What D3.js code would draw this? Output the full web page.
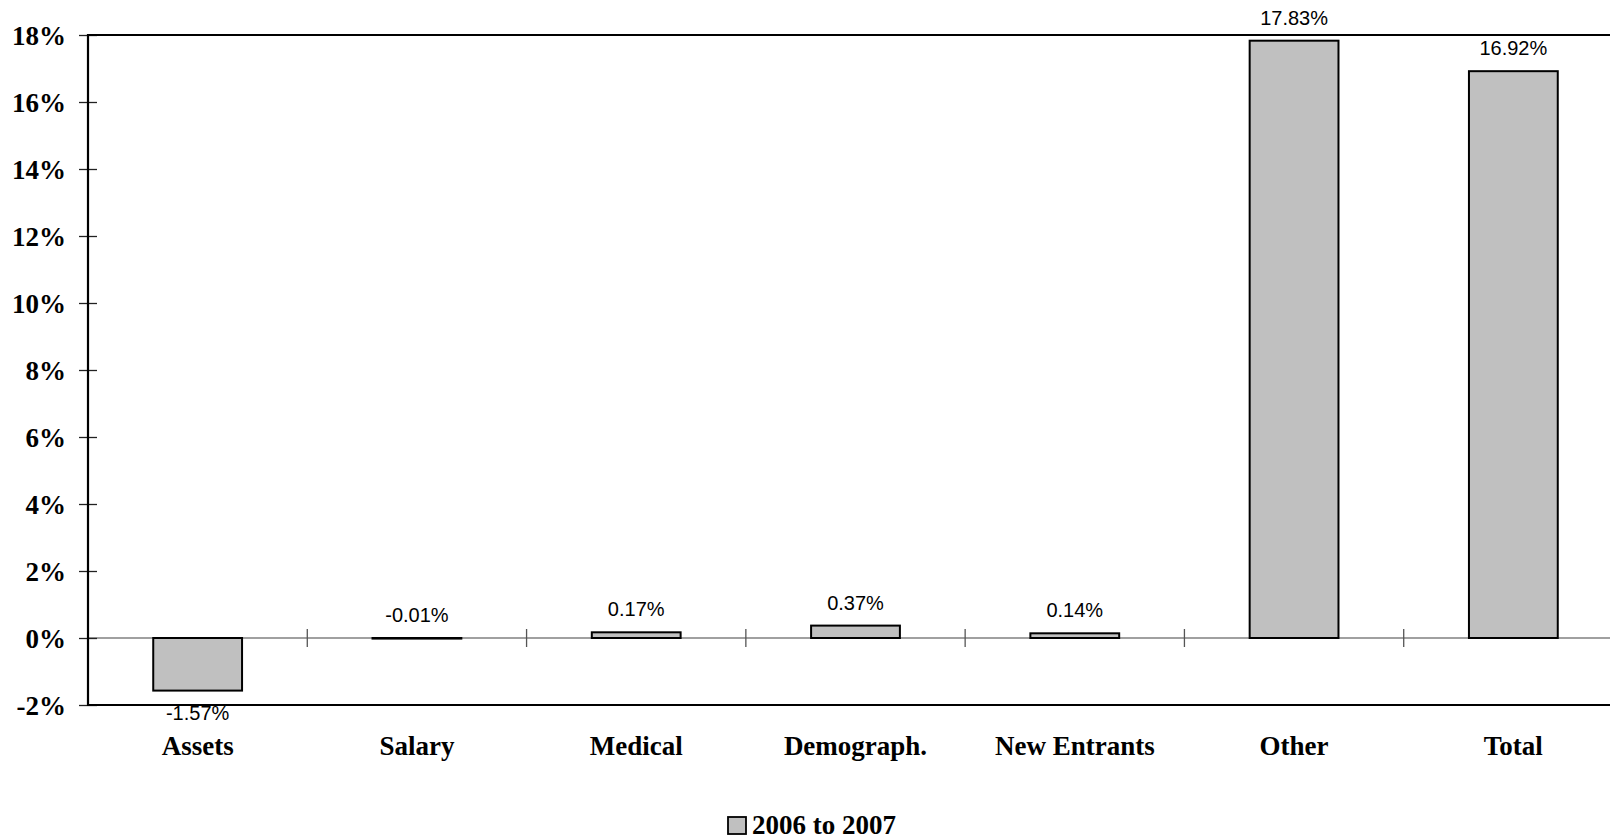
<!DOCTYPE html>
<html>
<head>
<meta charset="utf-8">
<script src="https://cdn.jsdelivr.net/npm/d3@7"></script>
<style>
  html, body { margin: 0; padding: 0; background: #fff; overflow: hidden; }
  svg { display: block; }
</style>
</head>
<body>
<svg id="chart" width="1610" height="840"></svg>
<script>
// Change in funded ratio by source, 2006 to 2007
const categories = ["Assets", "Salary", "Medical", "Demograph.", "New Entrants", "Other", "Total"];
const values = [-1.57, -0.01, 0.17, 0.37, 0.14, 17.83, 16.92];
const yTicks = [-2, 0, 2, 4, 6, 8, 10, 12, 14, 16, 18];
const seriesName = "2006 to 2007";

const svg = d3.select("#chart");
const plotLeft = 88, plotRight = 1623, plotTop = 35, plotBottom = 705;

const x = d3.scaleBand().domain(categories).range([plotLeft, plotRight]).paddingInner(0).paddingOuter(0);
const y = d3.scaleLinear().domain([-2, 18]).range([plotBottom, plotTop]);
const barW = x.bandwidth() * 0.405;

const serif = "'Liberation Serif', 'Times New Roman', serif";
const sans = "'Liberation Sans', Arial, sans-serif";

// zero line
svg.append("line")
  .attr("x1", plotLeft).attr("x2", plotRight)
  .attr("y1", y(0)).attr("y2", y(0))
  .attr("stroke", "#808080").attr("stroke-width", 1.3);

// category boundary ticks crossing the zero line
svg.append("g").selectAll("line")
  .data(categories.slice(1))
  .join("line")
  .attr("x1", d => x(d)).attr("x2", d => x(d))
  .attr("y1", y(0) - 9).attr("y2", y(0) + 9)
  .attr("stroke", "#555").attr("stroke-width", 1.3);

// bars
svg.append("g").selectAll("rect")
  .data(values)
  .join("rect")
  .attr("x", (d, i) => x(categories[i]) + x.bandwidth() / 2 - barW / 2)
  .attr("width", barW)
  .attr("y", d => y(Math.max(0, d)))
  .attr("height", d => Math.max(0.6, Math.abs(y(d) - y(0))))
  .attr("fill", "#c0c0c0")
  .attr("stroke", "#000")
  .attr("stroke-width", 2);

// value labels
svg.append("g").selectAll("text")
  .data(values)
  .join("text")
  .attr("x", (d, i) => x(categories[i]) + x.bandwidth() / 2)
  .attr("y", d => d < -0.5 ? y(d) + 29 : y(Math.max(0, d)) - 16)
  .attr("text-anchor", "middle")
  .attr("font-family", sans)
  .attr("font-size", 20)
  .attr("fill", "#000")
  .text(d => d.toFixed(2) + "%");

// y axis
const yAxis = d3.axisLeft(y).tickValues(yTicks).tickFormat(d => d + "%").tickSize(9);
const gy = svg.append("g").attr("transform", `translate(${plotLeft},0)`).call(yAxis);
gy.select(".domain").remove();
gy.selectAll(".tick line").attr("x1", -9).attr("x2", 9).attr("stroke", "#222").attr("stroke-width", 1.3);
gy.selectAll(".tick text")
  .attr("x", -22).attr("dy", 9)
  .attr("font-family", serif).attr("font-size", 27).attr("font-weight", "bold").attr("fill", "#000");

// plot frame: left, top and bottom edges
svg.append("path")
  .attr("d", `M${plotRight},${plotTop}H${plotLeft}V${plotBottom}H${plotRight}`)
  .attr("fill", "none").attr("stroke", "#000").attr("stroke-width", 2.2);

// category labels
svg.append("g").selectAll("text")
  .data(categories)
  .join("text")
  .attr("x", d => x(d) + x.bandwidth() / 2)
  .attr("y", 755)
  .attr("text-anchor", "middle")
  .attr("font-family", serif).attr("font-size", 27).attr("font-weight", "bold")
  .text(d => d);

// legend
const lg = svg.append("g");
lg.append("rect").attr("x", 728).attr("y", 817).attr("width", 18).attr("height", 17)
  .attr("fill", "#c0c0c0").attr("stroke", "#000").attr("stroke-width", 1.8);
lg.append("text").attr("x", 752).attr("y", 834)
  .attr("font-family", serif).attr("font-size", 27).attr("font-weight", "bold")
  .text(seriesName);
</script>
</body>
</html>
